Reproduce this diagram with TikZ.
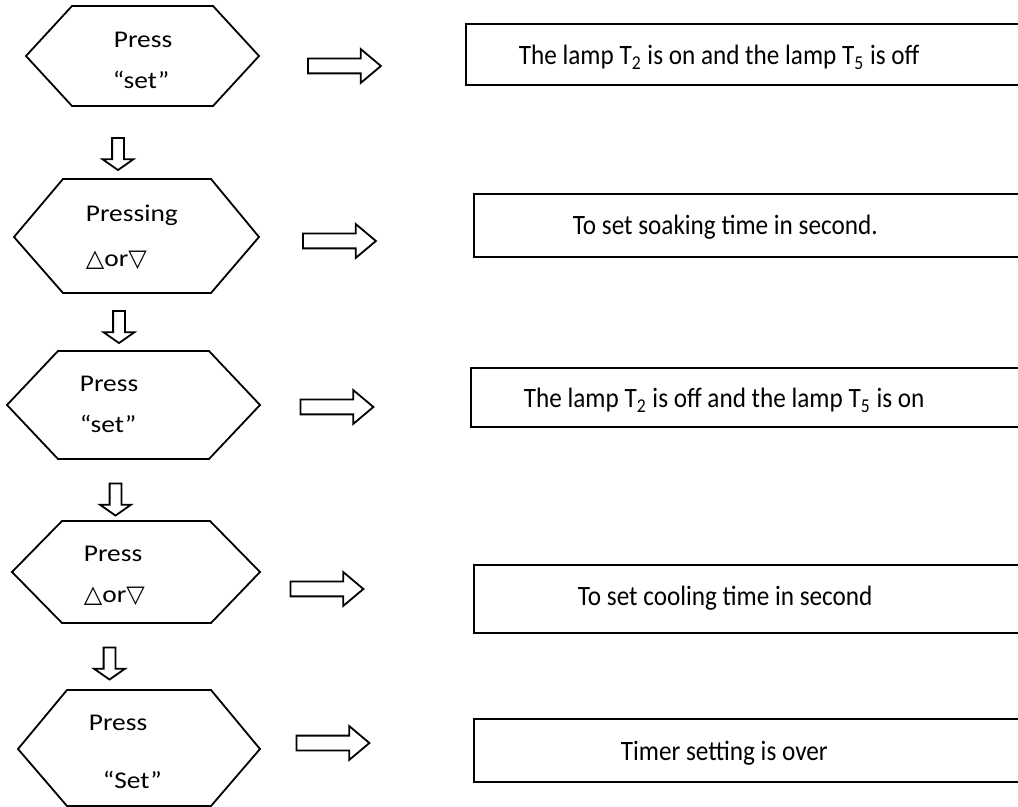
\documentclass[tikz,border=0pt]{standalone}
\usepackage{fontspec}
\setmainfont{Carlito}
\newfontfamily\keyfont{Carlito}[FakeStretch=1.14]
\newfontfamily\msgfont{Carlito}[FakeStretch=0.9]
\newfontfamily\symfont{DejaVu Sans}
\usetikzlibrary{shapes.arrows}

\newcommand\triup{{\symfont △}}
\newcommand\tridown{{\symfont ▽}}

\begin{document}
\begin{tikzpicture}[x=0.5pt,y=-0.5pt,line width=0.9pt,
  keytext/.style={anchor=base west,inner sep=0pt,font=\keyfont\fontsize{12}{14}\selectfont},
  msgtext/.style={anchor=base west,inner sep=0pt,font=\msgfont\fontsize{14}{16}\selectfont},
  msgbox/.style={draw,anchor=north west,minimum width=320pt,inner sep=0pt},
  rarrow/.style={draw,single arrow,minimum height=36.5pt,inner sep=3.25pt,
    single arrow head extend=4.75pt,single arrow tip angle=80,single arrow head indent=0pt},
  darrow/.style={draw,single arrow,rotate=-90,minimum height=16pt,inner sep=2.5pt,
    single arrow head extend=4.75pt,single arrow tip angle=110,single arrow head indent=0pt}]

\useasboundingbox (0,0) rectangle (1018,807);
\clip (0,0) rectangle (1018,807);

% hexagons
\draw (26,56) -- (72,6) -- (213,6) -- (259,56) -- (213,106) -- (72,106) -- cycle;
\draw (14,237) -- (63,179) -- (211,179) -- (259,237) -- (211,293) -- (63,293) -- cycle;
\draw (7,405) -- (58,351) -- (209,351) -- (260,405) -- (209,459) -- (58,459) -- cycle;
\draw (12,572) -- (62,521) -- (210,521) -- (260,572) -- (211,623) -- (62,623) -- cycle;
\draw (18,749) -- (67,690) -- (211,690) -- (260,749) -- (211,806) -- (67,806) -- cycle;

% keys
\node[keytext] (k1a) at (113,48) {Press};
\node[keytext] (k1b) at (112,89) {“set”};
\node[keytext] (k2a) at (85,222) {Pressing};
\node[keytext] (k2b) at (85,267) {\triup or\tridown};
\node[keytext] (k3a) at (79,392) {Press};
\node[keytext] (k3b) at (79,433) {“set”};
\node[keytext] (k4a) at (83,562) {Press};
\node[keytext] (k4b) at (83,603) {\triup or\tridown};
\node[keytext] (k5a) at (88,730) {Press};
\node[keytext] (k5b) at (102,788) {“Set”};

% down arrows
\node[darrow] (d1) at (118,152) {};
\node[darrow] (d2) at (119,325) {};
\node[darrow] (d3) at (115.5,497.5) {};
\node[darrow] (d4) at (109.5,661.5) {};

% right arrows
\node[rarrow] (r1) at (340,66) {};
\node[rarrow] (r2) at (335,241) {};
\node[rarrow] (r3) at (332.5,407) {};
\node[rarrow] (r4) at (322.5,589) {};
\node[rarrow] (r5) at (328.5,743) {};

% boxes
\node[msgbox,minimum height=30.5pt] (b1) at (465,23) {};
\node[msgbox,minimum height=31.5pt] (b2) at (473,193) {};
\node[msgbox,minimum height=29.5pt] (b3) at (470,367) {};
\node[msgbox,minimum height=34pt] (b4) at (473,564) {};
\node[msgbox,minimum height=31.5pt] (b5) at (473,718) {};

% box texts
\node[msgtext] (t1) at (518,65) {The lamp T\textsubscript{2} is on and the lamp T\textsubscript{5} is off};
\node[msgtext] (t2) at (572,235) {To set soaking time in second.};
\node[msgtext] (t3) at (523,408) {The lamp T\textsubscript{2} is off and the lamp T\textsubscript{5} is on};
\node[msgtext] (t4) at (577,605) {To set cooling time in second};
\node[msgtext] (t5) at (620,760) {Timer setting is over};

\end{tikzpicture}
\end{document}
